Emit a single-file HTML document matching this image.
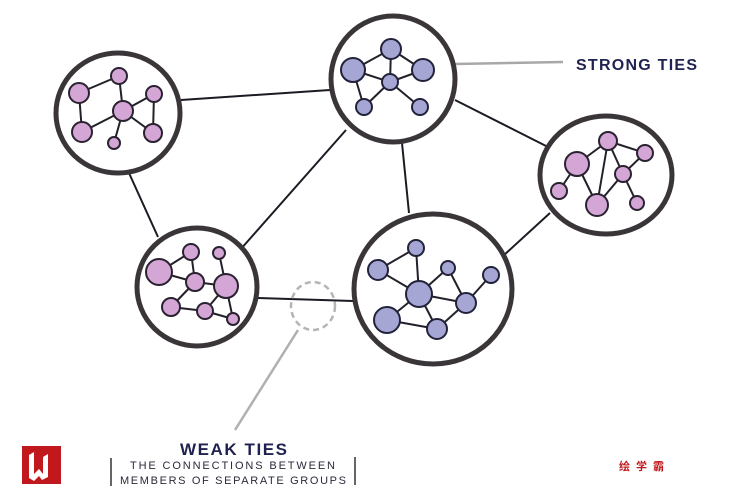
<!DOCTYPE html>
<html><head><meta charset="utf-8"><style>
html,body{margin:0;padding:0;background:#fff;width:749px;height:500px;overflow:hidden}
svg{display:block}
</style></head><body>
<svg width="749" height="500" viewBox="0 0 749 500" xmlns="http://www.w3.org/2000/svg">
<g stroke="#1c1a22" stroke-width="2" fill="none">
<line x1="181" y1="100" x2="330" y2="90"/>
<line x1="129" y1="173" x2="158" y2="237"/>
<line x1="240" y1="250" x2="346" y2="130"/>
<line x1="402" y1="143" x2="409" y2="213"/>
<line x1="455" y1="100" x2="550" y2="148"/>
<line x1="550" y1="213" x2="503" y2="256"/>
<line x1="258" y1="298" x2="353" y2="301"/>
</g>
<line x1="455" y1="64" x2="563" y2="62" stroke="#a8a8a8" stroke-width="2.5"/>
<line x1="298" y1="330" x2="235" y2="430" stroke="#b0b0b0" stroke-width="2.5"/>
<ellipse cx="313" cy="306" rx="22" ry="24" fill="none" stroke="#b5b5b5" stroke-width="2.5" stroke-dasharray="6 4"/>
<g fill="#fff" stroke="#3a3539" stroke-width="5">
<ellipse cx="118" cy="113" rx="62" ry="60"/>
<ellipse cx="393" cy="79" rx="62" ry="63"/>
<ellipse cx="606" cy="175" rx="66" ry="59"/>
<ellipse cx="197" cy="287" rx="60" ry="59"/>
<ellipse cx="433" cy="289" rx="79" ry="75"/>
</g>
<g stroke="#24202a" stroke-width="2">
<line x1="79" y1="93" x2="119" y2="76"/><line x1="119" y1="76" x2="123" y2="111"/><line x1="79" y1="93" x2="82" y2="132"/><line x1="82" y1="132" x2="123" y2="111"/><line x1="123" y1="111" x2="154" y2="94"/><line x1="154" y1="94" x2="153" y2="133"/><line x1="123" y1="111" x2="153" y2="133"/><line x1="123" y1="111" x2="114" y2="143"/>
<line x1="353" y1="70" x2="391" y2="49"/><line x1="391" y1="49" x2="423" y2="70"/><line x1="391" y1="49" x2="390" y2="82"/><line x1="353" y1="70" x2="390" y2="82"/><line x1="423" y1="70" x2="390" y2="82"/><line x1="353" y1="70" x2="364" y2="107"/><line x1="390" y1="82" x2="364" y2="107"/><line x1="390" y1="82" x2="420" y2="107"/>
<line x1="577" y1="164" x2="608" y2="141"/><line x1="608" y1="141" x2="645" y2="153"/><line x1="608" y1="141" x2="597" y2="205"/><line x1="608" y1="141" x2="623" y2="174"/><line x1="645" y1="153" x2="623" y2="174"/><line x1="577" y1="164" x2="559" y2="191"/><line x1="577" y1="164" x2="597" y2="205"/><line x1="623" y1="174" x2="597" y2="205"/><line x1="623" y1="174" x2="637" y2="203"/>
<line x1="159" y1="272" x2="191" y2="252"/><line x1="191" y1="252" x2="195" y2="282"/><line x1="159" y1="272" x2="195" y2="282"/><line x1="195" y1="282" x2="226" y2="286"/><line x1="219" y1="253" x2="226" y2="286"/><line x1="195" y1="282" x2="171" y2="307"/><line x1="226" y1="286" x2="205" y2="311"/><line x1="171" y1="307" x2="205" y2="311"/><line x1="205" y1="311" x2="233" y2="319"/><line x1="226" y1="286" x2="233" y2="319"/>
<line x1="378" y1="270" x2="416" y2="248"/><line x1="416" y1="248" x2="419" y2="294"/><line x1="378" y1="270" x2="419" y2="294"/><line x1="419" y1="294" x2="448" y2="268"/><line x1="448" y1="268" x2="466" y2="303"/><line x1="419" y1="294" x2="466" y2="303"/><line x1="466" y1="303" x2="491" y2="275"/><line x1="419" y1="294" x2="387" y2="320"/><line x1="419" y1="294" x2="437" y2="329"/><line x1="387" y1="320" x2="437" y2="329"/><line x1="437" y1="329" x2="466" y2="303"/>
</g>
<g fill="#d4a6d6" stroke="#2a2230" stroke-width="2">
<circle cx="79" cy="93" r="10"/><circle cx="119" cy="76" r="8"/><circle cx="154" cy="94" r="8"/><circle cx="123" cy="111" r="10"/><circle cx="82" cy="132" r="10"/><circle cx="153" cy="133" r="9"/><circle cx="114" cy="143" r="6"/>
<circle cx="608" cy="141" r="9"/><circle cx="577" cy="164" r="12"/><circle cx="645" cy="153" r="8"/><circle cx="623" cy="174" r="8"/><circle cx="559" cy="191" r="8"/><circle cx="597" cy="205" r="11"/><circle cx="637" cy="203" r="7"/>
<circle cx="159" cy="272" r="13"/><circle cx="191" cy="252" r="8"/><circle cx="219" cy="253" r="6"/><circle cx="195" cy="282" r="9"/><circle cx="226" cy="286" r="12"/><circle cx="171" cy="307" r="9"/><circle cx="205" cy="311" r="8"/><circle cx="233" cy="319" r="6"/>
</g>
<g fill="#a6a6d4" stroke="#22223a" stroke-width="2">
<circle cx="353" cy="70" r="12"/><circle cx="391" cy="49" r="10"/><circle cx="423" cy="70" r="11"/><circle cx="390" cy="82" r="8"/><circle cx="364" cy="107" r="8"/><circle cx="420" cy="107" r="8"/>
<circle cx="416" cy="248" r="8"/><circle cx="378" cy="270" r="10"/><circle cx="448" cy="268" r="7"/><circle cx="491" cy="275" r="8"/><circle cx="419" cy="294" r="13"/><circle cx="466" cy="303" r="10"/><circle cx="387" cy="320" r="13"/><circle cx="437" cy="329" r="10"/>
</g>
<text x="576" y="70" font-family="Liberation Sans, sans-serif" font-size="16" font-weight="bold" fill="#1f2150" textLength="121">STRONG TIES</text>
<text x="180" y="455" font-family="Liberation Sans, sans-serif" font-size="17" font-weight="bold" fill="#1f2150" textLength="107">WEAK TIES</text>
<text x="130" y="469" font-family="Liberation Sans, sans-serif" font-size="11" fill="#2a2a3a" textLength="205">THE CONNECTIONS BETWEEN</text>
<text x="120" y="484" font-family="Liberation Sans, sans-serif" font-size="11" fill="#2a2a3a" textLength="226">MEMBERS OF SEPARATE GROUPS</text>
<line x1="111" y1="458" x2="111" y2="486" stroke="#333" stroke-width="1.5"/>
<line x1="355" y1="457" x2="355" y2="485" stroke="#333" stroke-width="1.5"/>
<rect x="22" y="446" width="39" height="38" fill="#c0181c"/>
<path d="M29 455 L34 452 L34 474 L39 469 L43 474 L43 457 L48 454 L48 477 L42 480 L39 476 L34 481 L29 478 Z" fill="#fff"/>
<text x="619" y="470" font-family="Liberation Sans, 'Noto Sans CJK SC', sans-serif" font-size="11" font-weight="bold" fill="#c0181c" letter-spacing="6">绘学霸</text>
</svg>
</body></html>
